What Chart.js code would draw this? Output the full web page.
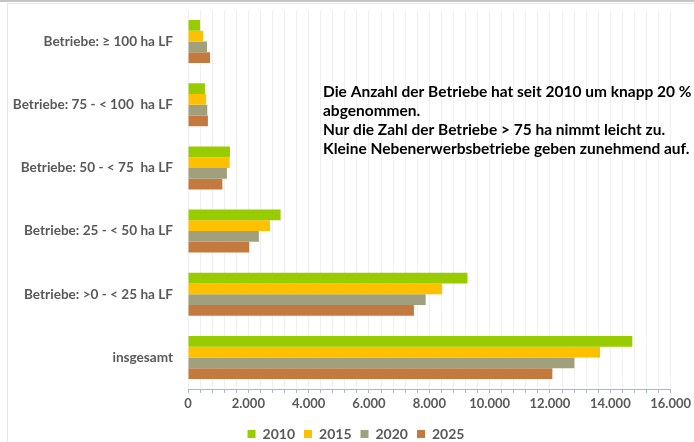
<!DOCTYPE html>
<html>
<head>
<meta charset="utf-8">
<script src="https://cdn.jsdelivr.net/npm/chart.js@4"></script>
<style>
  body { margin: 0; background: #fff; }
</style>
</head>
<body>
<canvas id="myChart" width="694" height="442"></canvas>
<script>
// categories, top to bottom
const categories = [
  'Betriebe: ≥ 100 ha LF',
  'Betriebe: 75 - < 100  ha LF',
  'Betriebe: 50 - < 75  ha LF',
  'Betriebe: 25 - < 50 ha LF',
  'Betriebe: >0 - < 25 ha LF',
  'insgesamt'
];
const years = ['2010', '2015', '2020', '2025'];
const values2010 = [400, 560, 1390, 3070, 9265, 14730];
const values2015 = [500, 600, 1380, 2720, 8425, 13660];
const values2020 = [630, 640, 1290, 2350, 7880, 12810];
const values2025 = [730, 660, 1140, 2030, 7490, 12080];
const colors = ['#99cc00', '#ffc000', '#a0a07c', '#c47a3f'];
const noteLines = [
  'Die Anzahl der Betriebe hat seit 2010 um knapp 20 %',
  'abgenommen.',
  'Nur die Zahl der Betriebe > 75 ha nimmt leicht zu.',
  'Kleine Nebenerwerbsbetriebe geben zunehmend auf.'
];

const FONT = 'Lato';

function fmt(v) {
  return String(v).replace(/\B(?=(\d{3})+(?!\d))/g, '.');
}

// frame lines + note text
const framePlugin = {
  id: 'frame',
  beforeDraw(chart) {
    // legend in the original sits a bit right of the canvas centre
    chart.legend.left = 41;
    const ctx = chart.ctx;
    ctx.save();
    ctx.fillStyle = '#ffffff';
    ctx.fillRect(0, 0, chart.width, chart.height);
    ctx.fillStyle = '#c4c4c4';
    ctx.fillRect(0, 0, chart.width, 2);
    ctx.fillStyle = '#e6e6e6';
    ctx.fillRect(7, 3, chart.width - 7, 1);
    ctx.fillRect(7, 3, 1, chart.height - 3);
    ctx.restore();
  },
  afterDraw(chart) {
    const ctx = chart.ctx;
    ctx.save();
    ctx.fillStyle = '#000000';
    ctx.font = 'bold 15.5px ' + FONT;
    ctx.textBaseline = 'middle';
    noteLines.forEach(function (t, i) {
      ctx.fillText(t, 323, 92 + i * 19);
    });
    ctx.restore();
  }
};

const data = {
  labels: categories,
  datasets: [values2010, values2015, values2020, values2025].map(function (vals, i) {
    return {
      label: years[i],
      data: vals,
      backgroundColor: colors[i],
      borderWidth: 0,
      categoryPercentage: 0.68,
      barPercentage: 1.0
    };
  })
};

const config = {
  type: 'bar',
  data: data,
  options: {
    indexAxis: 'y',
    responsive: false,
    animation: false,
    layout: { padding: { top: 10, right: 23, left: 0, bottom: -9 } },
    plugins: {
      legend: {
        position: 'bottom',
        labels: {
          boxWidth: 8,
          boxHeight: 8,
          padding: 9,
          color: '#595959',
          font: { family: FONT, size: 14, weight: 'bold' }
        }
      },
      tooltip: { enabled: false }
    },
    scales: {
      x: {
        min: 0,
        max: 16000,
        afterFit(scale) { scale.height = 29; },
        afterBuildTicks(scale) {
          const t = [];
          for (let v = 0; v <= 16000; v += 400) t.push({ value: v });
          scale.ticks = t;
        },
        ticks: {
          autoSkip: false,
          maxRotation: 0,
          padding: 3,
          color: '#595959',
          font: { family: FONT, size: 13, weight: 'bold' },
          callback: function (v) { return v % 2000 === 0 ? fmt(v) : ''; }
        },
        grid: { color: '#efefef', tickColor: '#a6b8cc', tickLength: 4 },
        border: { color: '#a6b8cc' }
      },
      y: {
        afterFit(scale) { scale.width = 188; },
        grid: { display: false, tickLength: 15 },
        border: { display: false },
        ticks: {
          padding: 0,
          color: '#595959',
          font: { family: FONT, size: 13.6, weight: 'bold' }
        }
      }
    }
  },
  plugins: [framePlugin]
};

var myChart = new Chart(document.getElementById('myChart'), config);
</script>
</body>
</html>
